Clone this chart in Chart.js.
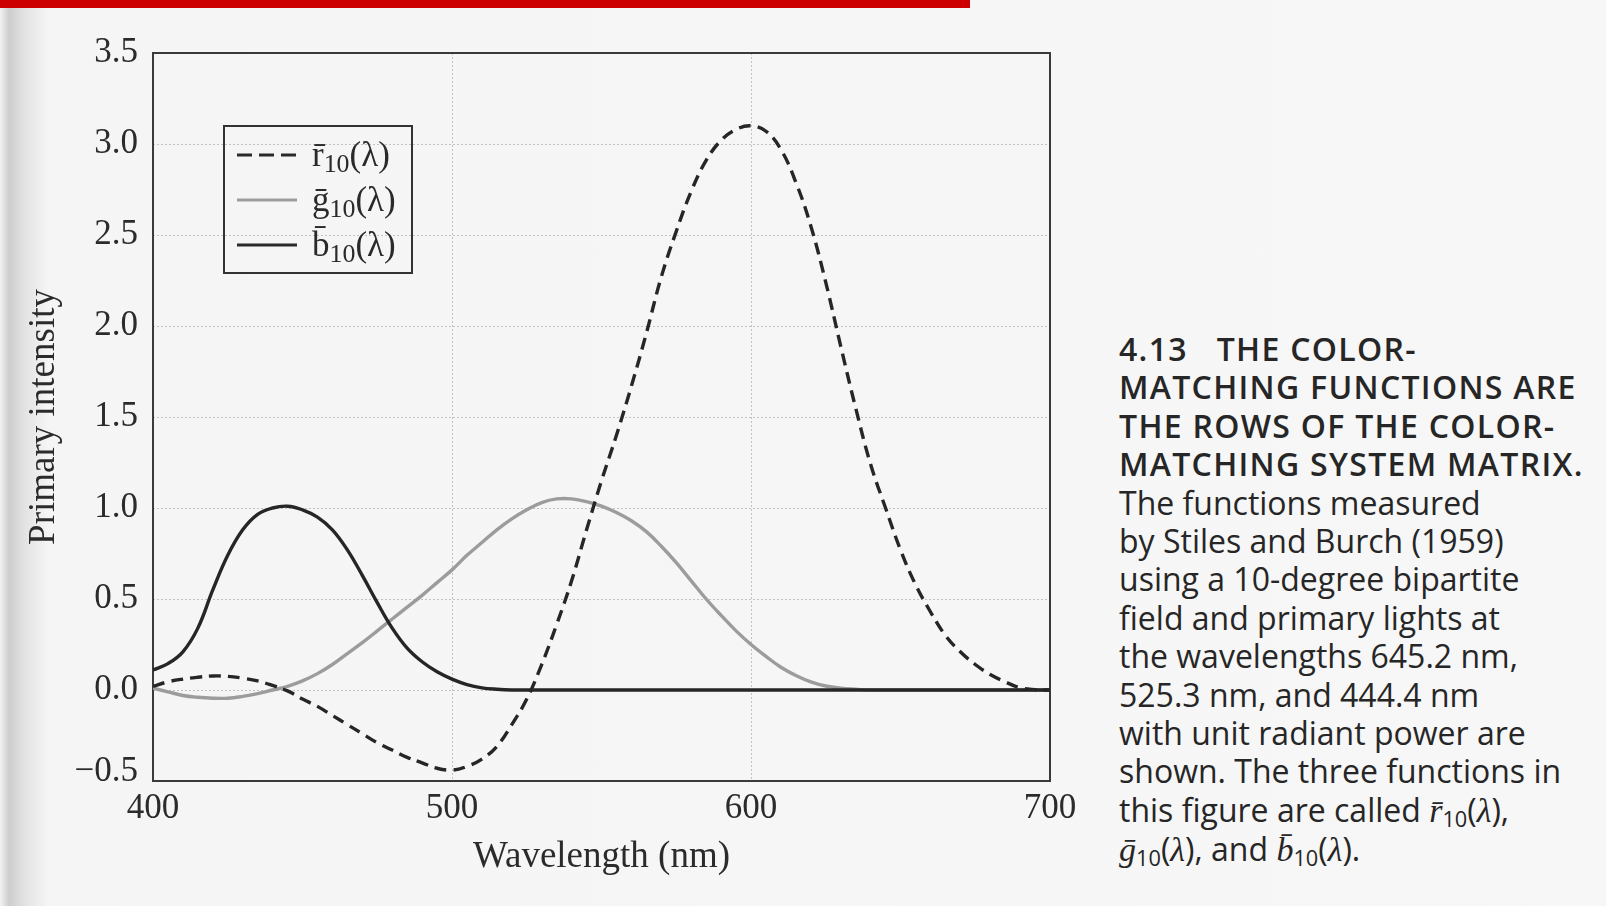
<!DOCTYPE html>
<html>
<head>
<meta charset="utf-8">
<script src="https://cdn.jsdelivr.net/npm/chart.js@4.4.0/dist/chart.umd.min.js"></script>
<style>
  html, body { margin: 0; padding: 0; }
  body {
    width: 1606px; height: 906px; position: relative; overflow: hidden;
    background: linear-gradient(to right, #f3f3f3 0px, #cdcdcd 9px, #e2e2e2 24px, #f5f5f5 48px, #f7f7f7 100%);
  }
  #topbar { position: absolute; left: 0; top: 0; width: 970px; height: 8px; background: #cc0000; }
  #wrap { position: absolute; left: 0; top: 0; width: 1086px; height: 906px; }
  #legend {
    position: absolute; left: 223px; top: 125px; width: 186px; height: 145px;
    border: 2px solid #333; font-family: "Liberation Serif", serif; color: #2a2a2a;
  }
  #legend .row { position: absolute; left: 0; height: 40px; width: 100%; }
  #legend svg { position: absolute; left: 12px; top: 17px; }
  #legend .lab { position: absolute; left: 87px; top: 0; font-size: 35px; line-height: 40px; white-space: nowrap; }
  #legend sub { font-size: 0.74em; vertical-align: -0.25em; line-height: 0; }
  #caption sub { font-size: 0.68em; vertical-align: -0.25em; line-height: 0; }
  #caption {
    position: absolute; left: 1119px; top: 330px;
    font-family: "Open Sans", sans-serif; font-size: 32px; line-height: 38.4px; color: #262626;
    white-space: nowrap;
  }
  #caption .hd { font-weight: 600; letter-spacing: 1.3px; }
  #caption .m { font-family: "Liberation Serif", serif; font-style: italic; font-size: 34px; }
</style>
</head>
<body>
<div id="topbar"></div>
<div id="wrap"><canvas id="chart" width="1086" height="906"></canvas></div>

<div id="legend">
  <div class="row" style="top:8px">
    <svg width="60" height="6"><line x1="0" y1="3" x2="60" y2="3" stroke="#2a2a2a" stroke-width="3" stroke-dasharray="15 7"/></svg>
    <span class="lab">r&#772;<sub>10</sub>(λ)</span>
  </div>
  <div class="row" style="top:53px">
    <svg width="60" height="6"><line x1="0" y1="3" x2="60" y2="3" stroke="#9c9c9c" stroke-width="3"/></svg>
    <span class="lab">g&#772;<sub>10</sub>(λ)</span>
  </div>
  <div class="row" style="top:98px">
    <svg width="60" height="6"><line x1="0" y1="3" x2="60" y2="3" stroke="#2a2a2a" stroke-width="3"/></svg>
    <span class="lab">b&#772;<sub>10</sub>(λ)</span>
  </div>
</div>

<div id="caption">
  <div class="hd">4.13&nbsp;&nbsp; THE COLOR-</div>
  <div class="hd">MATCHING FUNCTIONS ARE</div>
  <div class="hd">THE ROWS OF THE COLOR-</div>
  <div class="hd">MATCHING SYSTEM MATRIX.</div>
  <div>The functions measured</div>
  <div>by Stiles and Burch (1959)</div>
  <div>using a 10-degree bipartite</div>
  <div>field and primary lights at</div>
  <div>the wavelengths 645.2 nm,</div>
  <div>525.3 nm, and 444.4 nm</div>
  <div>with unit radiant power are</div>
  <div>shown. The three functions in</div>
  <div>this figure are called <span class="m">r&#772;</span><sub>10</sub>(<span class="m">λ</span>),</div>
  <div><span class="m">g&#772;</span><sub>10</sub>(<span class="m">λ</span>), and <span class="m">b&#772;</span><sub>10</sub>(<span class="m">λ</span>).</div>
</div>

<script>
// wavelength samples (nm)
const wavelengths = [400, 405, 410, 415, 420, 425, 430, 435, 440, 445,
  450, 455, 460, 465, 470, 475, 480, 485, 490, 495,
  500, 505, 510, 515, 520, 525, 530, 535, 540, 545,
  550, 555, 560, 565, 570, 575, 580, 585, 590, 595,
  600, 605, 610, 615, 620, 625, 630, 635, 640, 645,
  650, 655, 660, 665, 670, 675, 680, 685, 690, 695, 700];

const rBar = [0.02, 0.045, 0.06, 0.07, 0.077, 0.075, 0.065, 0.05, 0.025, -0.005,
  -0.05, -0.09, -0.14, -0.19, -0.24, -0.29, -0.33, -0.37, -0.40, -0.43,
  -0.44, -0.42, -0.38, -0.31, -0.19, -0.05, 0.14, 0.36, 0.60, 0.88,
  1.15, 1.40, 1.67, 1.96, 2.27, 2.52, 2.74, 2.91, 3.02, 3.08,
  3.10, 3.07, 2.97, 2.79, 2.55, 2.24, 1.89, 1.55, 1.24, 1.00,
  0.77, 0.58, 0.43, 0.30, 0.21, 0.14, 0.085, 0.045, 0.012, 0.002, 0];

const gBar = [0.01, -0.01, -0.03, -0.04, -0.045, -0.045, -0.035, -0.02, 0.0, 0.02,
  0.05, 0.09, 0.14, 0.20, 0.26, 0.325, 0.39, 0.455, 0.52, 0.59,
  0.66, 0.74, 0.81, 0.88, 0.94, 0.99, 1.03, 1.05, 1.05, 1.035,
  1.01, 0.975, 0.93, 0.87, 0.79, 0.70, 0.60, 0.50, 0.41, 0.325,
  0.25, 0.185, 0.125, 0.08, 0.045, 0.022, 0.01, 0.004, 0, 0,
  0, 0, 0, 0, 0, 0, 0, 0, 0, 0, 0];

const bBar = [0.11, 0.145, 0.21, 0.34, 0.55, 0.74, 0.88, 0.965, 1.00, 1.01,
  0.99, 0.95, 0.88, 0.77, 0.63, 0.48, 0.34, 0.23, 0.155, 0.10,
  0.06, 0.03, 0.012, 0.004, 0, 0, 0, 0, 0, 0,
  0, 0, 0, 0, 0, 0, 0, 0, 0, 0,
  0, 0, 0, 0, 0, 0, 0, 0, 0, 0,
  0, 0, 0, 0, 0, 0, 0, 0, 0, 0, 0];

const xTicks = [400, 500, 600, 700];
const yTicks = [-0.5, 0, 0.5, 1.0, 1.5, 2.0, 2.5, 3.0, 3.5];

const pts = vals => wavelengths.map((w, i) => ({ x: w, y: vals[i] }));
const serif = "'Liberation Serif', 'Times New Roman', serif";
const fmtY = v => (v < 0 ? "\u2212" : "") + Math.abs(v).toFixed(1);

// plot frame around the chart area
const frame = {
  id: "frame",
  beforeDatasetsDraw(chart) {
    const { ctx, chartArea: a } = chart;
    ctx.save();
    ctx.strokeStyle = "#3a3a3a";
    ctx.lineWidth = 2;
    ctx.strokeRect(a.left, a.top, a.right - a.left, a.bottom - a.top);
    ctx.restore();
  }
};

// lift the bottom y label a bit, as in the book
const nudge = {
  id: "nudge",
  beforeDraw(chart) {
    chart.scales.y.getLabelItems().forEach(it => {
      if (it.label === fmtY(-0.5)) it.options.translation[1] -= 9;
    });
  }
};

new Chart(document.getElementById("chart"), {
  type: "line",
  data: {
    datasets: [
      { label: "r10", data: pts(rBar), borderColor: "#262626", borderWidth: 3.4, borderDash: [12, 7] },
      { label: "b10", data: pts(bBar), borderColor: "#262626", borderWidth: 3.4 },
      { label: "g10", data: pts(gBar), borderColor: "#9c9c9c", borderWidth: 3.4 }
    ]
  },
  options: {
    responsive: false,
    animation: false,
    events: [],
    elements: { point: { radius: 0 }, line: { tension: 0.4, fill: false } },
    layout: { padding: { top: 53, right: 36, left: 0, bottom: 0 } },
    plugins: { legend: { display: false }, tooltip: { enabled: false } },
    scales: {
      x: {
        type: "linear", min: 400, max: 700,
        afterFit(s) { s.height = 125; },
        afterBuildTicks(s) { s.ticks = xTicks.map(v => ({ value: v })); },
        ticks: { color: "#2b2b2b", font: { family: serif, size: 35 }, padding: 7, maxRotation: 0 },
        grid: { color: "#c2c2c2", lineWidth: 1, drawTicks: false },
        border: { display: false, dash: [2, 2] },
        title: { display: true, text: "Wavelength (nm)", color: "#2b2b2b", font: { family: serif, size: 37 }, padding: { bottom: 27 } }
      },
      y: {
        min: -0.5, max: 3.5,
        afterFit(s) { s.width = 153; },
        afterBuildTicks(s) { s.ticks = yTicks.map(v => ({ value: v })); },
        ticks: { color: "#2b2b2b", font: { family: serif, size: 35 }, padding: 15, callback: fmtY },
        grid: { color: "#c2c2c2", lineWidth: 1, drawTicks: false },
        border: { display: false, dash: [2, 2] },
        title: { display: true, text: "Primary intensity", color: "#2b2b2b", font: { family: serif, size: 37 }, padding: { top: 22 } }
      }
    }
  },
  plugins: [frame, nudge]
});
</script>
</body>
</html>
